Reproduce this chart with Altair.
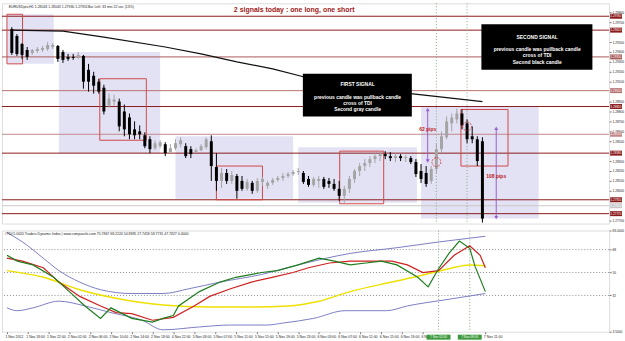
import altair as alt
import pandas as pd

# ---------------- price panel (EURUSD H1) ----------------
bar = list(range(93))
open_p = [1.2963,1.2956,1.2948,1.2942,1.2939,1.2941,1.2942,1.2943,1.2945,1.2946,
          1.2940,1.2935,1.2935,1.2934,1.2936,1.2922,1.2916,1.2910,1.2904,1.2886,
          1.2890,1.2890,1.2880,1.2874,1.2862,1.2860,1.2856,1.2852,1.2843,1.2845,
          1.2847,1.2839,1.2843,1.2847,1.2845,1.2842,1.2839,1.2841,1.2844,1.2850,
          1.2824,1.2810,1.2818,1.2810,1.2815,1.2810,1.2802,1.2808,1.2800,1.2809,
          1.2805,1.2808,1.2811,1.2813,1.2815,1.2817,1.2819,1.2818,1.2812,1.2806,
          1.2810,1.2812,1.2810,1.2807,1.2802,1.2795,1.2802,1.2812,1.2820,1.2825,
          1.2828,1.2832,1.2835,1.2837,1.2835,1.2833,1.2835,1.2833,1.2833,1.2829,
          1.2820,1.2818,1.2810,1.2822,1.2842,1.2854,1.2868,1.2872,1.2878,1.2868,
          1.2855,1.2852,1.2850]
high_p = [1.2965,1.2958,1.2949,1.2945,1.2943,1.2945,1.2946,1.2950,1.2949,1.2947,
          1.2942,1.2938,1.2938,1.2940,1.2937,1.2928,1.2920,1.2913,1.2907,1.2898,
          1.2897,1.2893,1.2887,1.2878,1.2870,1.2866,1.2859,1.2855,1.2851,1.2851,
          1.2849,1.2847,1.2852,1.2854,1.2848,1.2845,1.2843,1.2847,1.2854,1.2856,
          1.2838,1.2823,1.2822,1.2820,1.2817,1.2815,1.2812,1.2810,1.2813,1.2814,
          1.2810,1.2813,1.2815,1.2818,1.2819,1.2821,1.2823,1.2820,1.2815,1.2814,
          1.2815,1.2814,1.2813,1.2812,1.2810,1.2805,1.2815,1.2822,1.2828,1.2832,
          1.2835,1.2838,1.2840,1.2840,1.2839,1.2838,1.2837,1.2836,1.2835,1.2832,
          1.2827,1.2825,1.2825,1.2848,1.2860,1.2875,1.2878,1.2883,1.2882,1.2872,
          1.2865,1.2855,1.2854]
low_p = [1.2937,1.2936,1.2933,1.2932,1.2937,1.2939,1.2940,1.2941,1.2943,1.2930,
         1.2929,1.2931,1.2932,1.2933,1.2903,1.2900,1.2898,1.2898,1.2877,1.2884,
         1.2886,1.2860,1.2855,1.2852,1.2852,1.2852,1.2843,1.2838,1.2841,1.2843,
         1.2835,1.2837,1.2841,1.2844,1.2833,1.2833,1.2838,1.2840,1.2842,1.2810,
         1.2800,1.2803,1.2807,1.2807,1.2792,1.2800,1.2800,1.2797,1.2798,1.2805,
         1.2802,1.2806,1.2809,1.2810,1.2813,1.2815,1.2816,1.2807,1.2804,1.2804,
         1.2803,1.2802,1.2803,1.2800,1.2790,1.2788,1.2798,1.2808,1.2815,1.2820,
         1.2824,1.2828,1.2830,1.2832,1.2830,1.2829,1.2830,1.2829,1.2827,1.2814,
         1.2808,1.2804,1.2807,1.2818,1.2838,1.2852,1.2860,1.2868,1.2862,1.2848,
         1.2848,1.2825,1.2768]
close_p = [1.2939,1.2938,1.2937,1.2935,1.2942,1.2943,1.2944,1.2947,1.2947,1.2933,
           1.2932,1.2933,1.2934,1.2937,1.2910,1.2910,1.2906,1.2900,1.2880,1.2893,
           1.2892,1.2865,1.2862,1.2857,1.2856,1.2857,1.2845,1.2842,1.2848,1.2849,
           1.2838,1.2843,1.2848,1.2851,1.2835,1.2837,1.2841,1.2845,1.2852,1.2825,
           1.2810,1.2818,1.2810,1.2816,1.2800,1.2802,1.2809,1.2800,1.2810,1.2812,
           1.2808,1.2811,1.2813,1.2815,1.2817,1.2819,1.2820,1.2809,1.2806,1.2812,
           1.2812,1.2804,1.2807,1.2802,1.2795,1.2802,1.2812,1.2820,1.2825,1.2828,
           1.2832,1.2835,1.2837,1.2835,1.2833,1.2835,1.2833,1.2834,1.2829,1.2817,
           1.2812,1.2807,1.2822,1.2842,1.2855,1.2870,1.2874,1.2878,1.2866,1.2852,
           1.2852,1.2830,1.2772]

ma_bar = [0, 10, 18, 30, 37, 44, 51, 57, 66, 78, 85, 92]
ma_val = [1.2962, 1.2961, 1.2955, 1.2945, 1.2938, 1.2930, 1.2923, 1.2915, 1.2907, 1.2898, 1.2894, 1.2890]

hline_price = [1.2976, 1.2962, 1.2935, 1.2901, 1.2885, 1.2857, 1.2838, 1.2791, 1.2785, 1.2777]
hline_color = ["#8B1A1A", "#8B1A1A", "#A85A5A", "#B87070", "#8B1A1A", "#C08888", "#8B1A1A", "#8B1A1A", "#C8C8C8", "#8B1A1A"]

zone_x1 = [-0.95, 9.2, 32.0, 56.0, 80.0]
zone_x2 = [8.2, 29.0, 55.0, 79.2, 103.0]
zone_y1 = [1.2978, 1.2940, 1.2855, 1.2844, 1.2885]
zone_y2 = [1.2928, 1.2838, 1.2792, 1.2788, 1.2772]

box_x1 = [-0.95, 17.2, 40.0, 64.1, 87.8]
box_x2 = [2.1, 26.3, 49.0, 72.7, 97.0]
box_y1 = [1.2978, 1.2913, 1.2825, 1.2840, 1.2882]
box_y2 = [1.2928, 1.2851, 1.2791, 1.2787, 1.2825]

note_x1 = [56.9, 91.8]
note_x2 = [78.2, 113.5]
note_y1 = [1.2918, 1.2968]
note_y2 = [1.2875, 1.2922]
note_text = ["FIRST SIGNAL", "previous candle was pullback candle", "cross of TDI", "Second gray candle",
             "SECOND SIGNAL", "previous candle was pullback candle", "cross of TDI", "Second black candle"]
note_tx = [67.6, 67.6, 67.6, 67.6, 102.7, 102.7, 102.7, 102.7]
note_ty = [1.2908, 1.2895, 1.2889, 1.2882, 1.2955, 1.2943, 1.29365, 1.2930]

signal_bar = [83, 89]
circle_price = [1.2829, 1.2865]

arrow_bar = [81.3, 94.7]
arrow_top = [1.2882, 1.2863]
arrow_bot = [1.2830, 1.2773]
pips_text = ["62 pips", "108 pips"]
pips_price = [1.2862, 1.2815]

price_ticks = [1.2770, 1.2800, 1.2810, 1.2820, 1.2830, 1.2850, 1.2860, 1.2870,
               1.2880, 1.2890, 1.2910, 1.2920, 1.2930, 1.2940, 1.2950, 1.2970, 1.2980]

# ---------------- TDI panel ----------------
green_bar = [0, 2, 5, 9, 12, 15, 18, 20, 24, 28, 30, 32, 33, 37, 41, 44, 49, 52, 56, 60, 63, 66, 69, 72, 75, 79, 81, 83, 85, 87, 89, 90, 92]
green_val = [63.5, 59, 56, 46.25, 35, 23.75, 14, 22.25, 14, 11, 14, 16.25, 23.75, 35, 42.5, 46.25, 50, 51.5, 56, 61.25,
             59, 56, 57.5, 59, 56, 46.25, 38.75, 53, 65, 74.75, 69, 55, 35]
red_bar = [0, 3, 7, 10, 14, 18, 21, 24, 28, 32, 36, 39, 43, 47, 51, 55, 58, 62, 66, 70, 74, 77, 80, 83, 86, 89, 91, 92]
red_val = [61.25, 59, 53.75, 42.5, 31.25, 23.75, 18.5, 17.75, 12.5, 14.75, 23.75, 31.25, 37.25, 42.5, 46.25, 50,
           53.75, 57.5, 59, 59, 59, 56, 50, 51.5, 63.5, 71, 63.5, 53.75]
yellow_bar = [0, 7, 14, 22, 30, 39, 47, 54, 60, 66, 74, 79, 85, 89, 92]
yellow_val = [51.5, 46.25, 36.5, 29, 24.5, 23, 23, 23.75, 27.5, 35, 42.5, 47, 53, 56, 55.25]
upper_bar = [0, 3, 7, 10, 14, 18, 24, 30, 35, 41, 49, 56, 66, 75, 83, 89, 92]
upper_val = [81.5, 74, 61.25, 51.5, 42.5, 36.5, 33.5, 33.5, 37.25, 42.5, 48.5, 56, 65, 69.5, 74, 77, 78.5]
lower_bar = [0, 2, 5, 10, 15, 20, 26, 30, 37, 43, 50, 53, 59, 65, 73, 77, 85, 92]
lower_val = [22.25, 20, 22.25, 27.5, 23.75, 18.5, 12.5, 5, 7.25, 8.75, 8.75, 10.25, 14, 20, 20, 23.75, 29, 33.5]
tdi_levels = [68, 50, 32]
tdi_ticks = [3.5, 32, 50, 68, 83]

time_tick_bar = [0, 4, 8, 12, 16, 20, 24, 28, 32, 36, 40, 44, 48, 52, 56, 60, 64, 68, 72, 76, 80, 92]
time_labels = ["1 Nov 2012", "1 Nov 18:00", "1 Nov 22:00", "2 Nov 02:00", "2 Nov 06:00", "2 Nov 10:00",
               "2 Nov 14:00", "2 Nov 18:00", "4 Nov 22:00", "5 Nov 03:00", "5 Nov 07:00", "5 Nov 11:00",
               "5 Nov 15:00", "5 Nov 19:00", "5 Nov 23:00", "6 Nov 03:00", "6 Nov 07:00", "6 Nov 11:00",
               "6 Nov 15:00", "6 Nov 19:00", "6 Nov 23:00", "7 Nov 03:00", "7 Nov 07:00", "7 Nov 11:00"]
vline_labels = ["7 Nov 02:00", "7 Nov 08:00"]

# ---------------- build ----------------
W, H1, H2 = 612, 222, 102
FONT = "Liberation Sans"
xs = alt.Scale(domain=[-0.95, 115.8], nice=False, zero=False)
ys = alt.Scale(domain=[1.2767, 1.2989], nice=False, zero=False)
ys2 = alt.Scale(domain=[3.5, 83.0], nice=False, zero=False)

yaxis_main = alt.Axis(orient="right", values=price_ticks, format=".5f", labelFontSize=3.2, labelPadding=1,
                      tickSize=2, domain=False, grid=False, title=None, labelColor="#222", tickColor="#777",
                      labelFont=FONT)
arr = "[" + ",".join("'%s'" % s for s in time_labels) + "]"
xaxis_bot = alt.Axis(values=time_tick_bar, labelExpr=arr + "[round(datum.value/4)]", labelFontSize=3.5,
                     labelAlign="left", labelOffset=-2, labelFlush=False, labelOverlap=False, tickSize=2,
                     labelPadding=1, domain=False, grid=False, title=None, labelColor="#222",
                     tickColor="#777", labelFont=FONT)
yaxis_ind = alt.Axis(orient="right", values=tdi_ticks,
                     labelExpr="datum.value==32||datum.value==50||datum.value==68 ? format(datum.value,'d') : format(datum.value,'.4f')",
                     labelFontSize=3.2, labelPadding=1, tickSize=2, domain=False, grid=False, title=None,
                     labelColor="#222", tickColor="#777", labelFont=FONT)


def X(f):
    return alt.X(f, type="quantitative", scale=xs, axis=None)


def Y(f):
    return alt.Y(f, type="quantitative", scale=ys, axis=yaxis_main)


def XB(f):
    return alt.X(f, type="quantitative", scale=xs, axis=xaxis_bot)


def YB(f):
    return alt.Y(f, type="quantitative", scale=ys2, axis=yaxis_ind)


candles = pd.DataFrame({"i": bar, "o": open_p, "h": high_p, "l": low_p, "c": close_p})
candles["d"] = ["up" if c >= o else "down" for o, c in zip(open_p, close_p)]
cdir = alt.Color("d:N", scale=alt.Scale(domain=["up", "down"], range=["#A4A4A4", "#000000"]), legend=None)

zones = pd.DataFrame({"x1": zone_x1, "x2": zone_x2, "y1": zone_y1, "y2": zone_y2})
boxes = pd.DataFrame({"x1": box_x1, "x2": box_x2, "y1": box_y1, "y2": box_y2})
hl = pd.DataFrame({"p": hline_price, "c": hline_color})
hl["lo"] = hl["p"] - 0.00025
hl["hi"] = hl["p"] + 0.00025
notes = pd.DataFrame({"x1": note_x1, "x2": note_x2, "y1": note_y1, "y2": note_y2})
note_t = pd.DataFrame({"x": note_tx, "y": note_ty, "t": note_text})
ma = pd.DataFrame({"i": ma_bar, "v": ma_val})
sig = pd.DataFrame({"i": signal_bar, "p": circle_price})
arrows = pd.DataFrame({"i": arrow_bar, "t": arrow_top, "b": arrow_bot})
pips = pd.DataFrame({"i": arrow_bar, "p": pips_price, "t": pips_text})
title = pd.DataFrame({"i": [55.2], "p": [1.2982], "t": ["2 signals today : one long, one short"]})
header = pd.DataFrame({"i": [-0.6, 14.9], "p": [1.2985, 1.2985],
                       "t": ["EURUSDpro,H1  1.28043 1.28043 1.27930 1.27951", "Bar Left: 33 min 22 sec (13%)"]})

PURPLE = "#9A5FD0"
main = alt.layer(
    alt.Chart(zones).mark_rect(color="#E2E2F4").encode(x=X("x1"), x2=alt.X2("x2"), y=Y("y1"), y2=alt.Y2("y2")),
    alt.Chart(hl).mark_rule(strokeWidth=1).encode(y=Y("p"), color=alt.Color("c:N", scale=None)),
    alt.Chart(boxes).mark_rect(fillOpacity=0, stroke="#D04848", strokeWidth=1).encode(
        x=X("x1"), x2=alt.X2("x2"), y=Y("y1"), y2=alt.Y2("y2")),
    alt.Chart(sig).mark_rule(strokeDash=[1, 2], color="#86A886").encode(x=X("i")),
    alt.Chart(ma).mark_line(color="#111111", strokeWidth=1.2).encode(x=X("i"), y=Y("v")),
    alt.Chart(candles).mark_rule(strokeWidth=1).encode(x=X("i"), y=Y("l"), y2=alt.Y2("h"), color=cdir),
    alt.Chart(candles).mark_bar(size=3).encode(x=X("i"), y=Y("o"), y2=alt.Y2("c"), color=cdir),
    alt.Chart(notes).mark_rect(color="#000000").encode(x=X("x1"), x2=alt.X2("x2"), y=Y("y1"), y2=alt.Y2("y2")),
    alt.Chart(note_t).mark_text(color="white", fontWeight="bold", fontSize=5, font=FONT).encode(
        x=X("x"), y=Y("y"), text="t:N"),
    alt.Chart(sig).mark_point(shape="circle", size=80, filled=False, color="#D02020", strokeWidth=1,
                              strokeDash=[2, 1]).encode(x=X("i"), y=Y("p")),
    alt.Chart(arrows).mark_rule(color=PURPLE, strokeWidth=1).encode(x=X("i"), y=Y("t"), y2=alt.Y2("b")),
    alt.Chart(arrows).mark_point(shape="triangle-up", filled=True, size=16, color=PURPLE, opacity=1).encode(
        x=X("i"), y=Y("t")),
    alt.Chart(arrows).mark_point(shape="triangle-down", filled=True, size=16, color=PURPLE, opacity=1).encode(
        x=X("i"), y=Y("b")),
    alt.Chart(pips).mark_text(color="#C02020", fontWeight="bold", fontSize=5, font=FONT).encode(
        x=X("i"), y=Y("p"), text="t:N"),
    alt.Chart(title).mark_text(color="#A01818", fontWeight="bold", fontSize=7, font=FONT).encode(
        x=X("i"), y=Y("p"), text="t:N"),
    alt.Chart(header).mark_text(align="left", fontSize=3.5, color="#222", font=FONT).encode(
        x=X("i"), y=Y("p"), text="t:N"),
    alt.Chart(hl).mark_rect().encode(x=alt.value(W + 1), x2=alt.value(W + 13), y=Y("lo"), y2=alt.Y2("hi"),
                                     color=alt.Color("c:N", scale=None)),
    alt.Chart(hl).mark_text(align="left", fontSize=3, color="white", font=FONT).encode(
        x=alt.value(W + 1.5), y=Y("p"), text=alt.Text("p:Q", format=".5f")),
).properties(width=W, height=H1)


def series(b, v):
    return pd.DataFrame({"i": b, "v": v})


levels = pd.DataFrame({"v": tdi_levels})
vlab = pd.DataFrame({"i": signal_bar, "t": vline_labels})
vlab["a"] = vlab["i"] - 2.3
vlab["b"] = vlab["i"] + 2.3
tdi_head = pd.DataFrame({"i": [-0.4], "v": [80.5], "t": [
    "#TDI 5.0020  Traders Dynamic Index | www.compassfx.com  75.7867 68.2224 54.8985 27.7459 58.7731 47.7827 0.0000"]})

ind = alt.layer(
    alt.Chart(levels).mark_rule(strokeDash=[1, 2], color="#8C8C8C").encode(y=YB("v")),
    alt.Chart(pd.DataFrame({"i": signal_bar})).mark_rule(strokeDash=[1, 2], color="#86A886").encode(x=XB("i")),
    alt.Chart(series(upper_bar, upper_val)).mark_line(color="#7C7CC4", strokeWidth=1, interpolate="monotone").encode(
        x=XB("i"), y=YB("v")),
    alt.Chart(series(lower_bar, lower_val)).mark_line(color="#7C7CC4", strokeWidth=1, interpolate="monotone").encode(
        x=XB("i"), y=YB("v")),
    alt.Chart(series(yellow_bar, yellow_val)).mark_line(color="#EEE000", strokeWidth=1.5, interpolate="monotone").encode(
        x=XB("i"), y=YB("v")),
    alt.Chart(series(red_bar, red_val)).mark_line(color="#D02020", strokeWidth=1.2).encode(x=XB("i"), y=YB("v")),
    alt.Chart(series(green_bar, green_val)).mark_line(color="#1E7E1E", strokeWidth=1.2).encode(x=XB("i"), y=YB("v")),
    alt.Chart(tdi_head).mark_text(align="left", fontSize=3.5, color="#222", font=FONT).encode(
        x=XB("i"), y=YB("v"), text="t:N"),
    alt.Chart(vlab).mark_rect(color="#3C9A3C").encode(x=XB("a"), x2=alt.X2("b"), y=alt.value(H2 + 3),
                                                       y2=alt.value(H2 + 8)),
    alt.Chart(vlab).mark_text(fontSize=3.2, color="white", font=FONT).encode(x=XB("i"), y=alt.value(H2 + 5.6),
                                                                             text="t:N"),
).properties(width=W, height=H2)

chart = alt.vconcat(main, ind, spacing=3).properties(
    padding={"left": 1, "top": 1, "right": 0, "bottom": 0}, background="white"
).configure_view(stroke="#7A7A7A", strokeWidth=1).configure(font=FONT)

chart.save("out.html", embed_options={"renderer": "svg", "actions": False})
